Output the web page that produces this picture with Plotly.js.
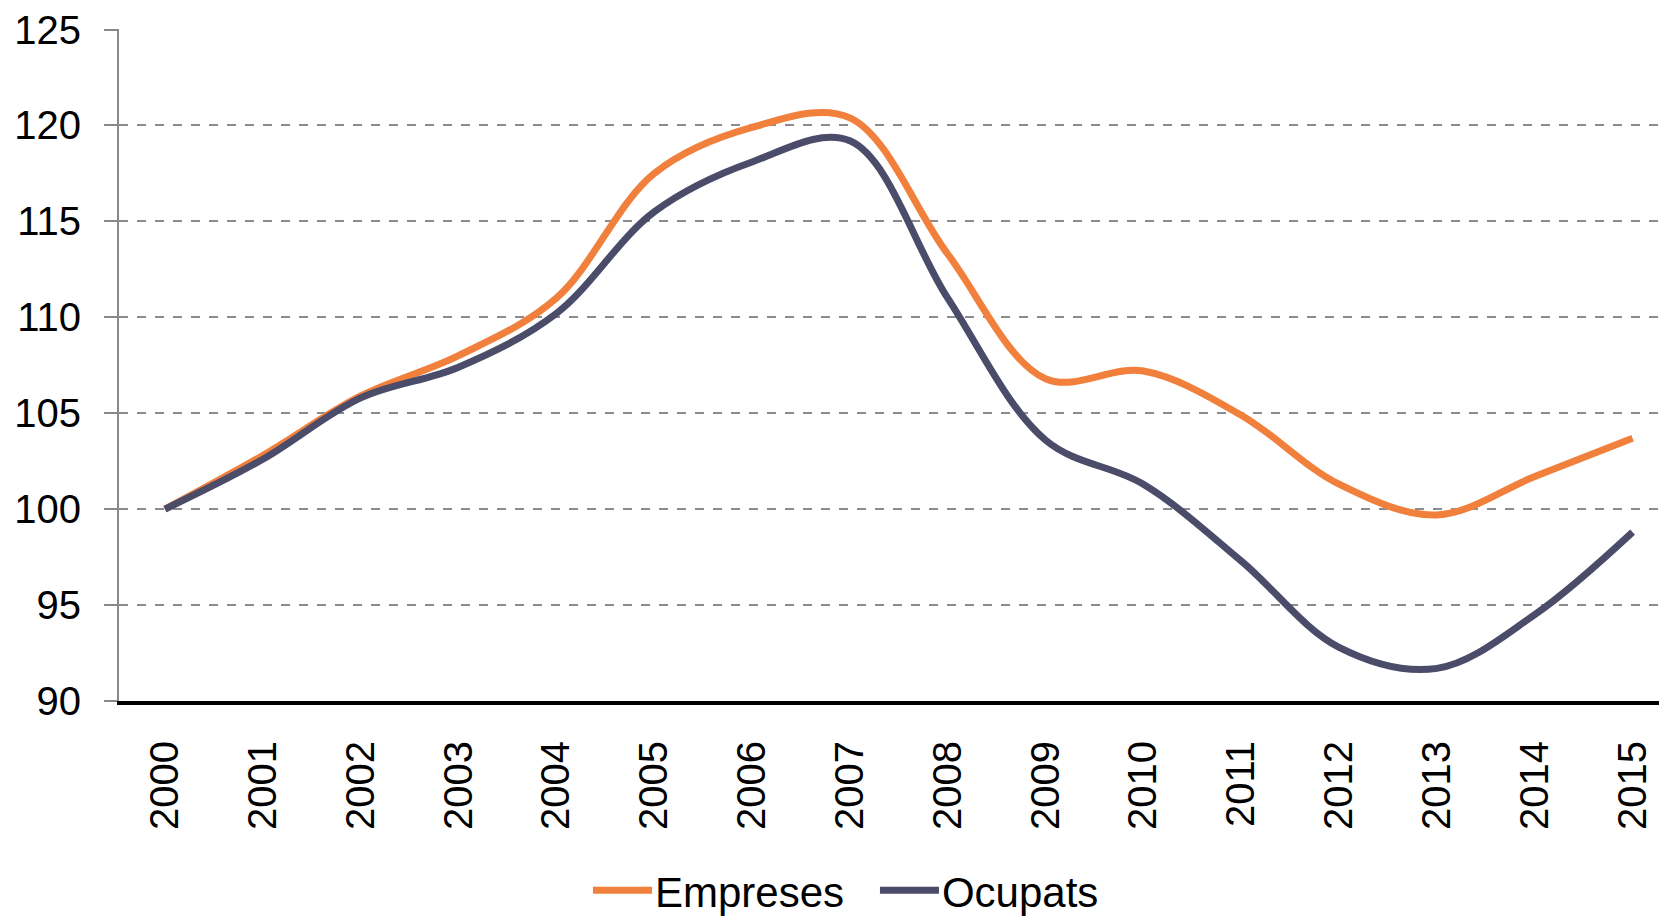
<!DOCTYPE html>
<html>
<head>
<meta charset="utf-8">
<script src="https://cdn.plot.ly/plotly-3.0.1.min.js"></script>
<style>html,body{margin:0;padding:0;background:#fff;}#chart{width:1659px;height:917px;}</style>
</head>
<body>
<div id="chart"></div>
<script>
const years = [2000, 2001, 2002, 2003, 2004, 2005, 2006, 2007, 2008, 2009, 2010, 2011, 2012, 2013, 2014, 2015];
const yearLabels = ["2000","2001","2002","2003","2004","2005","2006","2007","2008","2009","2010","2011","2012","2013","2014","2015"];
const empreses = [100.0, 102.8, 105.9, 108.0, 111.0, 117.5, 119.9, 120.4, 113.3, 106.8, 107.2, 104.9, 101.3, 99.7, 101.7, 103.7];
const ocupats  = [100.0, 102.6, 105.8, 107.4, 110.2, 115.5, 118.1, 119.2, 111.0, 103.6, 101.3, 97.3, 92.8, 91.7, 94.5, 98.8];
const yTicks = [90, 95, 100, 105, 110, 115, 120, 125];

const FONT = "Liberation Sans, Arial, sans-serif";

const traces = [
  {x: years, y: empreses, name: "Empreses", type: "scatter", mode: "lines",
   line: {color: "#F0803C", width: 7, shape: "spline", smoothing: 1}},
  {x: years, y: ocupats, name: "Ocupats", type: "scatter", mode: "lines",
   line: {color: "#4A4C6A", width: 7, shape: "spline", smoothing: 1}}
];

const layout = {
  width: 1659, height: 917,
  margin: {l: 119, r: 0, t: 29, b: 216},
  paper_bgcolor: "#fff", plot_bgcolor: "#fff",
  font: {family: FONT, size: 40, color: "#000"},
  showlegend: true,
  legend: {orientation: "h", x: 0.3538, xref: "container", xanchor: "left",
           y: 0.029, yref: "container", yanchor: "middle",
           entrywidth: 214, entrywidthmode: "pixels",
           font: {family: FONT, size: 42, color: "#000"}, itemwidth: 58, tracegroupgap: 0},
  xaxis: {
    range: [1999.53, 2015.27],
    tickmode: "array", tickvals: years, ticktext: yearLabels,
    tickangle: -90, ticks: "", showgrid: false, zeroline: false,
    showline: true, linecolor: "#000", linewidth: 4,
    ticklabelstandoff: 20, automargin: false,
    tickfont: {family: FONT, size: 40, color: "#000"}
  },
  yaxis: {
    range: [90, 125.03],
    tickmode: "array", tickvals: yTicks,
    ticks: "outside", ticklen: 13, tickcolor: "#888", tickwidth: 2,
    showline: true, linecolor: "#888", linewidth: 2,
    showgrid: true, gridcolor: "#8c8c8c", gridwidth: 2, griddash: "dash",
    zeroline: false, automargin: false,
    ticklabelstandoff: 15,
    tickfont: {family: FONT, size: 40, color: "#000"}
  }
};

Plotly.newPlot("chart", traces, layout, {displayModeBar: false, staticPlot: true}).then(function (gd) {
  // lengthen the legend line samples so they run up to the label text
  gd.querySelectorAll(".legend .traces").forEach(function (g) {
    const txt = g.querySelector("text.legendtext");
    const path = g.querySelector("path.js-line");
    if (!txt || !path) return;
    const tx = parseFloat(txt.getAttribute("x")) || 40;
    path.setAttribute("d", "M" + (tx - 62) + ",0h59");
  });
});
</script>
</body>
</html>
